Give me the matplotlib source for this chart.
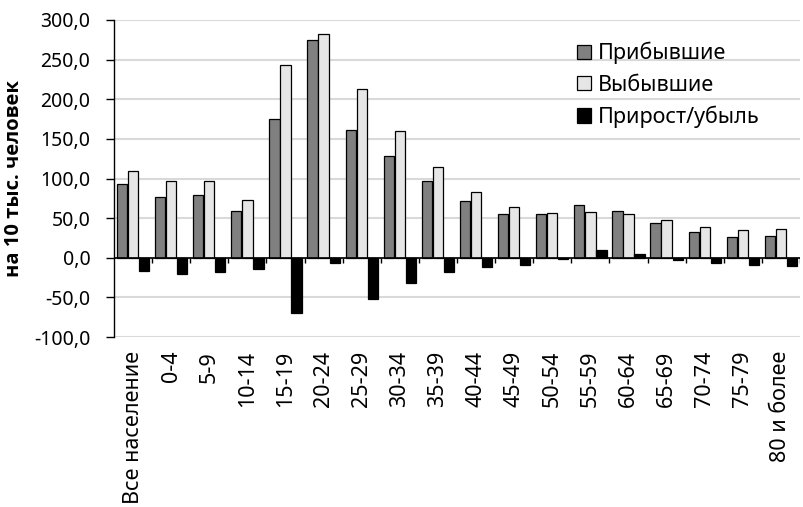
import numpy as np
import matplotlib
matplotlib.use("Agg")
import matplotlib.pyplot as plt

plt.rcParams['font.family'] = ['Noto Sans', 'DejaVu Sans']

# возрастные группы
categories = ['Все население', '0-4', '5-9', '10-14', '15-19', '20-24', '25-29',
              '30-34', '35-39', '40-44', '45-49', '50-54', '55-59', '60-64',
              '65-69', '70-74', '75-79', '80 и более']

arrived = [93.0, 76.7, 79.2, 59.4, 174.6, 275.2, 161.6, 128.8, 97.3, 72.0,
           54.8, 55.6, 66.1, 59.0, 44.3, 32.9, 26.2, 27.0]
departed = [109.0, 96.8, 96.4, 73.3, 243.6, 281.9, 213.0, 160.4, 114.1, 83.0,
            63.6, 56.5, 57.3, 54.8, 47.2, 38.4, 35.0, 35.9]
net = [-16.3, -20.5, -17.5, -14.2, -69.3, -6.6, -52.0, -32.3, -17.5, -11.2,
       -9.1, -1.0, 9.8, 5.1, -2.8, -6.2, -8.7, -10.0]

series_names = ['Прибывшие', 'Выбывшие', 'Прирост/убыль']
colors = ['#808080', '#e6e6e6', '#000000']

fig = plt.figure(figsize=(8.04, 5.07), dpi=100)
ax = fig.add_axes([114 / 804, 1 - 337 / 507, 686 / 804, 317 / 507])

x = np.arange(len(categories))
w = 0.27
step = 0.29
for i, (vals, name, col) in enumerate(zip([arrived, departed, net], series_names, colors)):
    ax.bar(x + (i - 1) * step, vals, w, color=col, edgecolor='black',
           linewidth=0.9, label=name, zorder=3)

ax.set_xlim(-0.5, len(categories) - 0.5)
ax.set_ylim(-100, 300)
ax.set_yticks(np.arange(-100, 301, 50))
ax.set_yticklabels([f'{v:.1f}'.replace('.', ',') for v in np.arange(-100, 301, 50)])
ax.yaxis.grid(True, color='#d9d9d9', linewidth=1.5, zorder=0)
ax.set_axisbelow(True)

for s in ['top', 'right', 'bottom']:
    ax.spines[s].set_visible(False)
ax.spines['left'].set_linewidth(1.0)

# ось на нуле с засечками между категориями
ax.axhline(0, color='black', linewidth=1.2, zorder=4)
ax.vlines(np.arange(0.5, len(categories)), -6.3, 0, color='black', linewidth=1.0, zorder=4)

ax.set_xticks(x)
ax.set_xticklabels(categories, rotation=90, va='top', ha='center')
ax.tick_params(axis='x', length=0, pad=10, labelsize=15.5)
ax.tick_params(axis='y', length=6, width=1.0, labelsize=14, pad=11)

ax.set_ylabel('на 10 тыс. человек', fontsize=14.5, fontweight='bold',
              family=['Open Sans', 'DejaVu Sans'])
ax.yaxis.set_label_coords(-90 / 686, 0.5)

leg = ax.legend(loc='upper left', bbox_to_anchor=(577 / 804, 1 - 42 / 507),
                bbox_transform=fig.transFigure, frameon=False, fontsize=15.5,
                handlelength=0.65, handleheight=0.65, handletextpad=0.3,
                labelspacing=0.47, borderpad=0, borderaxespad=0)

fig.savefig('out.png', dpi=100)
